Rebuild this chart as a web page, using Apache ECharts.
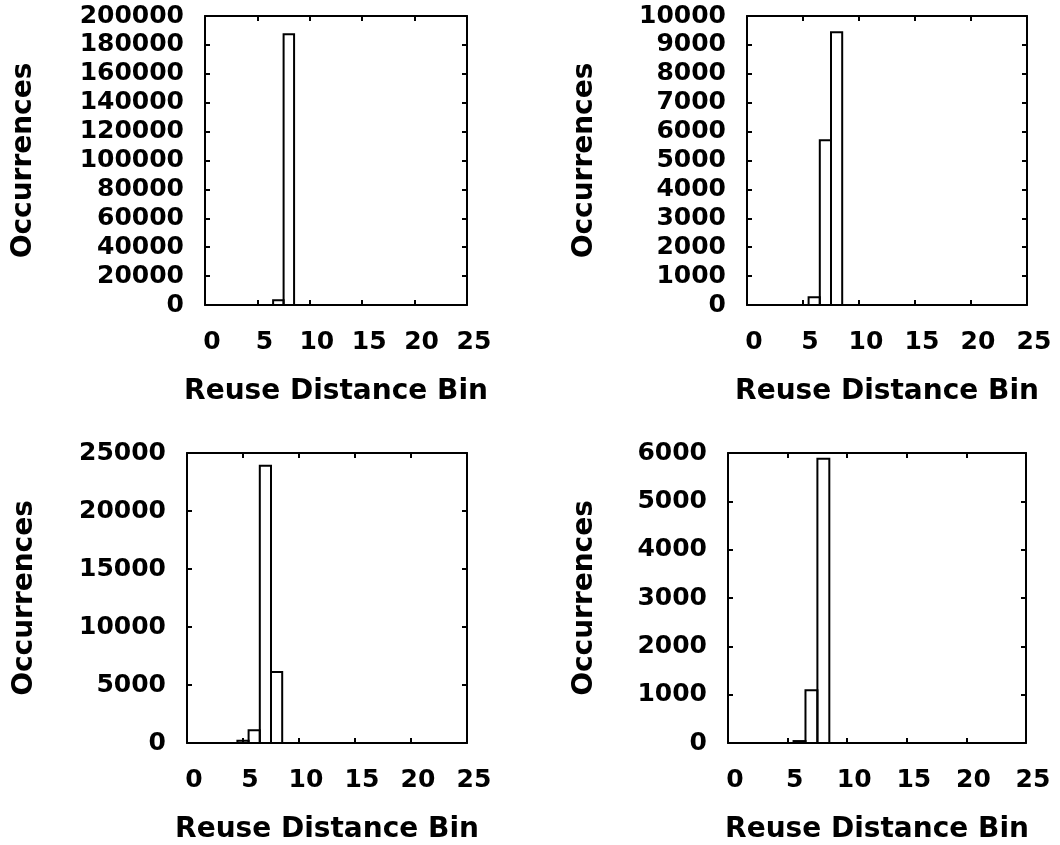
<!DOCTYPE html>
<html><head><meta charset="utf-8">
<script src="https://cdn.jsdelivr.net/npm/echarts@6/dist/echarts.min.js"></script>
<style>html,body{margin:0;padding:0;background:#fff}#c{width:1060px;height:845px}</style>
</head><body><div id="c"></div>
<script>
// Data (bin index -> occurrences), one histogram per panel
const binsA = [7, 8];
const valsA = [3300, 187300];
const binsB = [6, 7, 8];
const valsB = [270, 5700, 9440];
const binsC = [5, 6, 7, 8];
const valsC = [200, 1100, 23900, 6130];
const binsD = [6, 7, 8];
const valsD = [40, 1090, 5880];
const yMaxes = [200000, 10000, 25000, 6000];
const yIntervals = [20000, 1000, 5000, 1000];
const xMin = 0, xMax = 25, xInterval = 5;
const xName = 'Reuse Distance Bin';
const yName = 'Occurrences';

const panels = [[binsA, valsA], [binsB, valsB], [binsC, valsC], [binsD, valsD]];
const grids = [
  {left: 205, top: 16, width: 262, height: 289},
  {left: 747, top: 16, width: 280, height: 289},
  {left: 187, top: 453, width: 280, height: 290},
  {left: 728, top: 453, width: 298, height: 290}
];
const yNameGaps = [167, 148, 148, 129];
function font(size) { return {fontFamily: 'DejaVu Sans', fontWeight: 'bold', fontSize: size, color: '#000'}; }
function ticks() { return {show: true, inside: true, length: 5, lineStyle: {color: '#000', width: 2}}; }
function line() { return {show: true, onZero: false, lineStyle: {color: '#000', width: 2}}; }
const plain = v => String(v);

function renderBox(params, api) {
  const x = api.value(0), y = api.value(1);
  const p0 = api.coord([x - 0.5, y]);
  const p1 = api.coord([x + 0.5, 0]);
  return {
    type: 'rect',
    shape: {x: p0[0], y: p0[1], width: p1[0] - p0[0], height: p1[1] - p0[1]},
    style: {fill: 'none', stroke: '#000', lineWidth: 2}
  };
}

const option = {
  animation: false,
  backgroundColor: '#fff',
  grid: grids.map(g => Object.assign({show: false}, g)),
  xAxis: [], yAxis: [], series: []
};

panels.forEach((p, i) => {
  option.xAxis.push({
    type: 'value', gridIndex: i, min: xMin, max: xMax, interval: xInterval, position: 'bottom',
    axisLine: line(), splitLine: {show: false}, axisTick: ticks(),
    axisLabel: Object.assign({margin: 25, formatter: plain, padding: [0, 0, 0, 14]}, font(25)),
    name: xName, nameLocation: 'middle', nameGap: 73, nameTextStyle: font(28)
  });
  option.xAxis.push({
    type: 'value', gridIndex: i, min: xMin, max: xMax, interval: xInterval, position: 'top',
    axisLine: line(), splitLine: {show: false}, axisTick: ticks(), axisLabel: {show: false}
  });
  option.yAxis.push({
    type: 'value', gridIndex: i, min: 0, max: yMaxes[i], interval: yIntervals[i], position: 'left',
    axisLine: line(), splitLine: {show: false}, axisTick: ticks(),
    axisLabel: Object.assign({margin: 21, formatter: plain}, font(25)),
    name: yName, nameLocation: 'middle', nameRotate: 90, nameGap: yNameGaps[i], nameTextStyle: font(28)
  });
  option.yAxis.push({
    type: 'value', gridIndex: i, min: 0, max: yMaxes[i], interval: yIntervals[i], position: 'right',
    axisLine: line(), splitLine: {show: false}, axisTick: ticks(), axisLabel: {show: false}
  });
  option.series.push({
    type: 'custom', xAxisIndex: 2 * i, yAxisIndex: 2 * i,
    renderItem: renderBox, encode: {x: 0, y: 1},
    data: p[0].map((b, k) => [b, p[1][k]])
  });
});

const chart = echarts.init(document.getElementById('c'), null, {renderer: 'canvas'});
chart.setOption(option);
</script>
</body></html>
